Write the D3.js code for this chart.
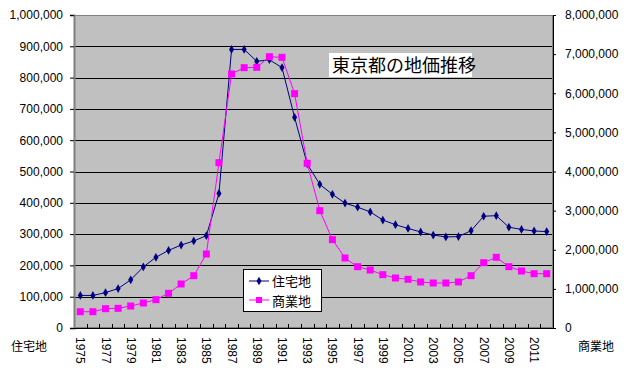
<!DOCTYPE html>
<html>
<head>
<meta charset="utf-8">
<script src="https://cdn.jsdelivr.net/npm/d3@7"></script>
<style>
body { margin: 0; background: #fff; }
text { font-family: "Liberation Sans", Arial, sans-serif; }
.jp { font-family: "Noto Sans CJK JP", sans-serif; }
</style>
</head>
<body>
<div id="chart"></div>
<script>
var years = d3.range(1975, 2013);
var yearLabels = ["1975","1977","1979","1981","1983","1985","1987","1989","1991","1993","1995","1997","1999","2001","2003","2005","2007","2009","2011"];

// 住宅地 (left axis)
var residential = [104000,104000,113000,126000,154000,195000,226000,248000,265000,278000,
                   295000,430000,890000,890000,852000,857000,832000,673000,524000,459000,
                   427000,399000,386000,371000,345000,330000,318000,307000,297000,291000,
                   292000,311000,357000,359000,322000,315000,310000,308000];
// 商業地 (right axis)
var commercial = [416000,416000,494000,503000,562000,639000,724000,886000,1125000,1337000,
                  1891000,4226000,6492000,6654000,6662000,6934000,6918000,5990000,4209000,2999000,
                  2258000,1789000,1567000,1482000,1363000,1278000,1244000,1176000,1150000,1150000,
                  1176000,1337000,1669000,1807000,1567000,1457000,1388000,1388000];

var leftTicks = d3.range(0, 1000001, 100000);
var rightTicks = d3.range(0, 8000001, 1000000);

var W = 624, H = 368;
var L = 74, R = 553, T = 15, B = 328;

var svg = d3.select("#chart").append("svg").attr("width", W).attr("height", H);

var x = d3.scaleBand().domain(years).range([L, R]);
var yL = d3.scaleLinear().domain([0, 1000000]).range([B, T]);
var yR = d3.scaleLinear().domain([0, 8000000]).range([B, T]);
var fmt = d3.format(",");

svg.append("rect").attr("x", L).attr("y", T).attr("width", R - L).attr("height", B - T).style("fill", "#c0c0c0");

// gridlines
svg.append("g").selectAll("line").data(leftTicks.slice(1, -1)).enter().append("line")
  .attr("x1", L).attr("x2", R).attr("y1", function(d){return Math.round(yL(d)) + 0.5}).attr("y2", function(d){return Math.round(yL(d)) + 0.5})
  .style("stroke", "#000").style("stroke-width", 1);

svg.append("rect").attr("x", L + 0.5).attr("y", T + 0.5).attr("width", R - L - 1).attr("height", B - T - 1)
  .style("fill", "none").style("stroke", "#808080").style("stroke-width", 1);

// left axis
var gl = svg.append("g").attr("transform", "translate(" + L + ",0)")
  .call(d3.axisLeft(yL).tickValues(leftTicks).tickFormat(fmt).tickSize(4).tickPadding(7));
gl.select(".domain").style("stroke", "#808080").style("stroke-width", 2);
gl.selectAll(".tick line").style("stroke", "#000");
gl.selectAll("text").style("font-size", "12px").style("fill", "#000");

// right axis
var gr = svg.append("g").attr("transform", "translate(" + R + ",0)")
  .call(d3.axisRight(yR).tickValues(rightTicks).tickFormat(fmt).tickSize(3).tickPadding(9));
gr.select(".domain").style("stroke", "#000");
gr.selectAll(".tick line").style("stroke", "#000");
gr.selectAll("text").style("font-size", "12px").style("fill", "#000");

// bottom axis
var gb = svg.append("g").attr("transform", "translate(0," + B + ")");
gb.append("line").attr("x1", L).attr("x2", R).attr("y1", 0.5).attr("y2", 0.5).style("stroke", "#000");
gb.selectAll("line.tk").data(years.slice(1)).enter().append("line").attr("class", "tk")
  .attr("x1", function(d){return Math.round(x(d)) + 0.5}).attr("x2", function(d){return Math.round(x(d)) + 0.5})
  .attr("y1", 0).attr("y2", -4).style("stroke", "#000");
gb.selectAll("text").data(yearLabels).enter().append("text")
  .attr("transform", function(d){return "translate(" + (x(+d) + x.bandwidth() / 2 - 4) + ",9) rotate(90)"})
  .style("font-size", "12px").text(function(d){return d});

// lines
var cx = function(d, i){return x(years[i]) + x.bandwidth() / 2};
var lineL = d3.line().x(cx).y(function(d){return yL(d)});
var lineR = d3.line().x(cx).y(function(d){return yR(d)});

svg.append("path").datum(residential).attr("d", lineL).style("fill", "none").style("stroke", "#000080").style("stroke-width", 1);
svg.append("g").selectAll("path").data(residential).enter().append("path")
  .attr("d", d3.symbol().type(d3.symbolDiamond).size(22))
  .attr("transform", function(d, i){return "translate(" + cx(d, i) + "," + yL(d) + ")"})
  .style("fill", "#000080");

svg.append("path").datum(commercial).attr("d", lineR).style("fill", "none").style("stroke", "#ff00ff").style("stroke-width", 1);
svg.append("g").selectAll("rect").data(commercial).enter().append("rect")
  .attr("x", function(d, i){return cx(d, i) - 3.5}).attr("y", function(d){return yR(d) - 3.5})
  .attr("width", 7).attr("height", 7).style("fill", "#ff00ff");

// title
svg.append("rect").attr("x", 329).attr("y", 53).attr("width", 143).attr("height", 24).style("fill", "#fff");
svg.append("text").attr("class", "jp").attr("x", 332).attr("y", 72).style("font-size", "18px").text("東京都の地価推移");

// legend
var lg = svg.append("g").attr("transform", "translate(243,269)");
lg.append("rect").attr("x", 0.5).attr("y", 0.5).attr("width", 78).attr("height", 42).style("fill", "#fff").style("stroke", "#000");
lg.append("line").attr("x1", 6).attr("x2", 26).attr("y1", 12).attr("y2", 12).style("stroke", "#000080");
lg.append("path").attr("d", d3.symbol().type(d3.symbolDiamond).size(22)).attr("transform", "translate(16,12)").style("fill", "#000080");
lg.append("line").attr("x1", 6).attr("x2", 26).attr("y1", 31).attr("y2", 31).style("stroke", "#ff00ff");
lg.append("rect").attr("x", 13).attr("y", 28).attr("width", 6).attr("height", 6).style("fill", "#ff00ff");
lg.append("text").attr("class", "jp").attr("x", 29).attr("y", 17).style("font-size", "13px").text("住宅地");
lg.append("text").attr("class", "jp").attr("x", 29).attr("y", 37).style("font-size", "13px").text("商業地");

// axis titles
svg.append("text").attr("class", "jp").attr("x", 11).attr("y", 351).style("font-size", "12px").text("住宅地");
svg.append("text").attr("class", "jp").attr("x", 578).attr("y", 351).style("font-size", "12px").text("商業地");
</script>
</body>
</html>
